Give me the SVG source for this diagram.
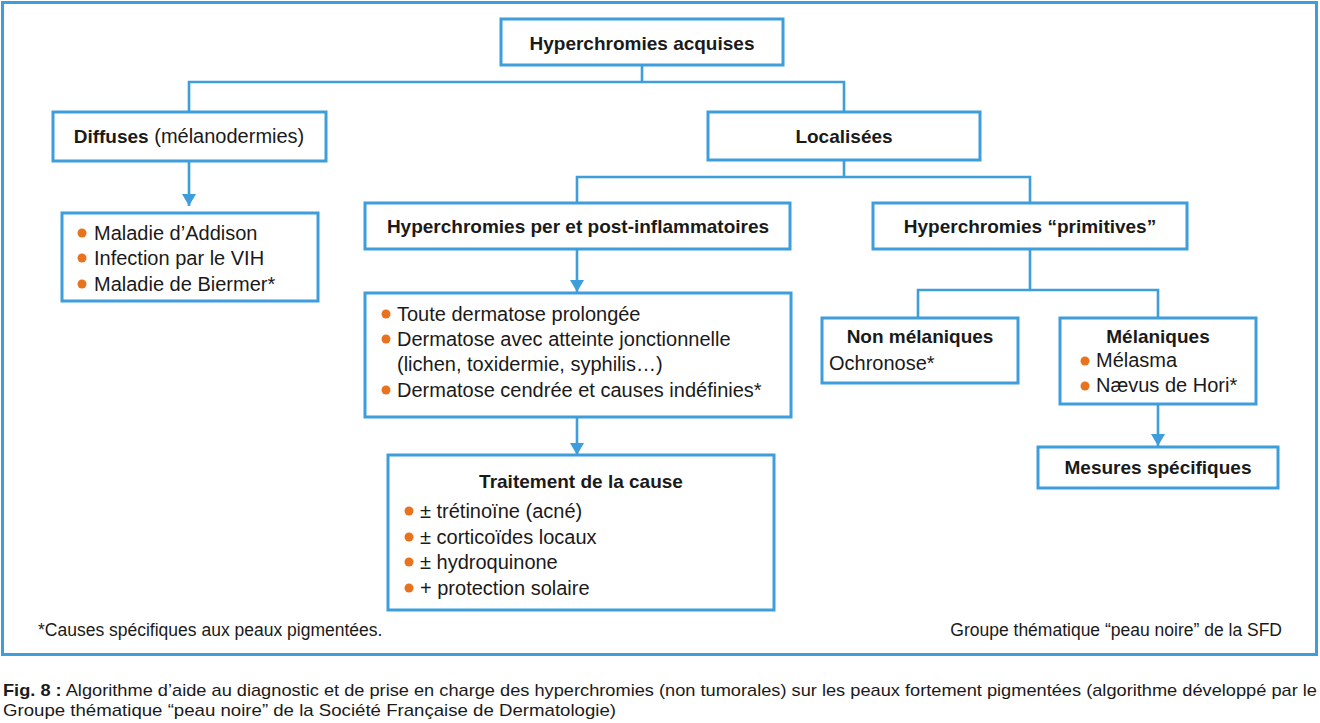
<svg xmlns="http://www.w3.org/2000/svg" width="1320" height="723" viewBox="0 0 1320 723">
<defs>
<style>
.box{fill:#fff;stroke:#3d9edb;stroke-width:3}
.con{fill:none;stroke:#3d9edb;stroke-width:2.6}
.t{font-family:"Liberation Sans",Arial,sans-serif;font-size:20px;fill:#1a1a1a}
.b{font-family:"Liberation Sans",Arial,sans-serif;font-size:19px;font-weight:bold;fill:#1a1a1a}
.f{font-family:"Liberation Sans",Arial,sans-serif;font-size:17.5px;fill:#1a1a1a}
.c{font-family:"Liberation Sans",Arial,sans-serif;font-size:17px;fill:#1a1a1a}
.dot{fill:#e8731e}
</style>
<marker id="arr" viewBox="0 0 12 14" refX="12" refY="7" markerWidth="12" markerHeight="14" markerUnits="userSpaceOnUse" orient="auto">
<path d="M0,0 L12,7 L0,14 z" fill="#3d9edb"/>
</marker>
</defs>
<rect x="0" y="0" width="1320" height="723" fill="#fff"/>
<rect x="2.5" y="2.5" width="1314" height="652" fill="none" stroke="#3d9edb" stroke-width="3"/>

<g id="connectors">
<path class="con" d="M642 65 V82 M189 112 V82 H844 V112"/>
<path class="con" d="M189 161 V206" marker-end="url(#arr)"/>
<path class="con" d="M844 160 V177 M577 203 V177 H1030 V203"/>
<path class="con" d="M577 249 V292" marker-end="url(#arr)"/>
<path class="con" d="M577 417 V455" marker-end="url(#arr)"/>
<path class="con" d="M1030 249 V290 M918 318 V290 H1158 V318"/>
<path class="con" d="M1158 404 V446" marker-end="url(#arr)"/>
</g>

<g id="n-acquises">
<rect class="box" x="501" y="19" width="282" height="46"/>
<text class="b" x="642" y="50" text-anchor="middle">Hyperchromies acquises</text>
</g>

<g id="n-diffuses">
<rect class="box" x="53" y="112" width="273" height="49"/>
<text class="t" x="189" y="143" text-anchor="middle"><tspan font-weight="bold" font-size="19">Diffuses</tspan> (mélanodermies)</text>
</g>

<g id="n-localisees">
<rect class="box" x="708" y="112" width="272" height="48"/>
<text class="b" x="844" y="143" text-anchor="middle">Localisées</text>
</g>

<g id="n-diffuses-list">
<rect class="box" x="62" y="213" width="256" height="88"/>
<circle class="dot" cx="82" cy="233" r="4.5"/>
<text class="t" x="94" y="240">Maladie d’Addison</text>
<circle class="dot" cx="82" cy="258" r="4.5"/>
<text class="t" x="94" y="265">Infection par le VIH</text>
<circle class="dot" cx="82" cy="284" r="4.5"/>
<text class="t" x="94" y="291">Maladie de Biermer*</text>
</g>

<g id="n-post">
<rect class="box" x="365" y="203" width="425" height="46"/>
<text class="b" x="578" y="233" text-anchor="middle">Hyperchromies per et post-inflammatoires</text>
</g>

<g id="n-primitives">
<rect class="box" x="873" y="203" width="314" height="46"/>
<text class="b" x="1030" y="233" text-anchor="middle">Hyperchromies “primitives”</text>
</g>

<g id="n-post-list">
<rect class="box" x="365" y="293" width="426" height="124"/>
<circle class="dot" cx="386" cy="314" r="4.5"/>
<text class="t" x="397" y="321">Toute dermatose prolongée</text>
<circle class="dot" cx="386" cy="339" r="4.5"/>
<text class="t" x="397" y="346">Dermatose avec atteinte jonctionnelle</text>
<text class="t" x="397" y="371">(lichen, toxidermie, syphilis…)</text>
<circle class="dot" cx="386" cy="390" r="4.5"/>
<text class="t" x="397" y="397">Dermatose cendrée et causes indéfinies*</text>
</g>

<g id="n-non-melaniques">
<rect class="box" x="822" y="318" width="196" height="65"/>
<text class="b" x="920" y="343" text-anchor="middle">Non mélaniques</text>
<text class="t" x="829" y="370">Ochronose*</text>
</g>

<g id="n-melaniques">
<rect class="box" x="1060" y="318" width="196" height="86"/>
<text class="b" x="1158" y="343" text-anchor="middle">Mélaniques</text>
<circle class="dot" cx="1085" cy="361" r="4.5"/>
<text class="t" x="1096" y="367">Mélasma</text>
<circle class="dot" cx="1085" cy="386" r="4.5"/>
<text class="t" x="1096" y="392">Nævus de Hori*</text>
</g>

<g id="n-mesures">
<rect class="box" x="1038" y="447" width="240" height="41"/>
<text class="b" x="1158" y="474" text-anchor="middle">Mesures spécifiques</text>
</g>

<g id="n-traitement">
<rect class="box" x="388" y="455" width="386" height="155"/>
<text class="b" x="581" y="488" text-anchor="middle">Traitement de la cause</text>
<circle class="dot" cx="409" cy="511" r="4.5"/>
<text class="t" x="420" y="518">± trétinoïne (acné)</text>
<circle class="dot" cx="409" cy="537" r="4.5"/>
<text class="t" x="420" y="544">± corticoïdes locaux</text>
<circle class="dot" cx="409" cy="562" r="4.5"/>
<text class="t" x="420" y="569">± hydroquinone</text>
<circle class="dot" cx="409" cy="588" r="4.5"/>
<text class="t" x="420" y="595">+ protection solaire</text>
</g>

<text class="f" x="38" y="636">*Causes spécifiques aux peaux pigmentées.</text>
<text class="f" x="1282" y="636" text-anchor="end">Groupe thématique “peau noire” de la SFD</text>

<text class="c" x="3" y="696" textLength="1314" lengthAdjust="spacingAndGlyphs"><tspan font-weight="bold">Fig. 8 :</tspan> Algorithme d’aide au diagnostic et de prise en charge des hyperchromies (non tumorales) sur les peaux fortement pigmentées (algorithme développé par le</text>
<text class="c" x="3" y="716" textLength="613" lengthAdjust="spacingAndGlyphs">Groupe thématique “peau noire” de la Société Française de Dermatologie)</text>
</svg>
